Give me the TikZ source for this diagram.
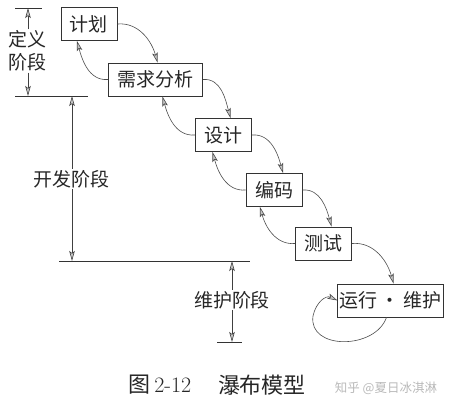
\documentclass[tikz,border=0pt]{standalone}
\usepackage{fontspec}
\newfontfamily\cjk{Noto Sans CJK SC}
\usepackage{tikz}
\usetikzlibrary{arrows.meta,positioning}

\tikzset{
    phase/.style={draw=black!80, thick, inner xsep=9pt, minimum height=33pt,
        font=\cjk\fontsize{19}{22}\selectfont, text=black!85},
    label/.style={inner sep=1pt, font=\cjk\fontsize{19}{23}\selectfont,
        text=black!85, align=center},
    flow/.style={draw=black!70, semithick,
        -{Stealth[length=10pt,width=5.5pt,inset=2pt,fill=gray!45]}},
    dim/.style={draw=black!75, semithick,
        -{Stealth[length=10pt,width=5.5pt,inset=2pt,fill=gray!45]}},
    rule/.style={draw=black!80, semithick}
}

\begin{document}
\begin{tikzpicture}[x=1pt,y=-1pt]
    \useasboundingbox (0,0) rectangle (451,412);

    % 各阶段
    \node[phase] (plan)   at (89,24)     {计划};
    \node[phase] (req)    at (155.5,79.5) {需求分析};
    \node[phase] (design) at (223.5,135) {设计};
    \node[phase] (code)   at (274,190)   {编码};
    \node[phase] (test)   at (323.5,243.5) {测试};
    \node[phase, inner xsep=2pt] (run) at (390.5,300.5) {运行\,·\,维护};

    % 向下的箭头
    \foreach \a/\b/\dx in {plan/req/2, req/design/7, design/code/9, code/test/8, test/run/3} {
        \draw[flow] (\a.east) to[out=5, in=105] ([xshift=\dx pt]\b.north);
    }
    % 返回的箭头
    \foreach \a/\b/\dx in {req/plan/-12, design/req/7, code/design/-11, test/code/-14} {
        \draw[flow] (\a.west) to[out=185, in=-75] ([xshift=\dx pt]\b.south);
    }
    % 运行维护自身的循环
    \draw[flow] ([xshift=-4pt]run.south) .. controls (375,350) and (308,350) .. (313,316)
        .. controls (316,302) and (326,295) .. (run.west);

    % 定义阶段
    \coordinate (deftop) at (28,8);
    \coordinate (defbot) at (28,96);
    \draw[rule] (15,8) -- (42,8);
    \draw[rule] (15,96) -- (88,96);
    \node[label] (define) at (28,51) {定义\\阶段};
    \draw[dim] (define) -- (deftop);
    \draw[dim] (define) -- (defbot);

    % 开发阶段
    \coordinate (devtop) at (72,96);
    \coordinate (devbot) at (72,261);
    \draw[rule] (59,261) -- (250,261);
    \node[label] (develop) at (72,179) {开发阶段};
    \draw[dim] (develop) -- (devtop);
    \draw[dim] (develop) -- (devbot);

    % 维护阶段
    \coordinate (maintop) at (232,261);
    \coordinate (mainbot) at (232,342);
    \draw[rule] (217,342) -- (242,342);
    \node[label] (maintain) at (232,300) {维护阶段};
    \draw[dim] (maintain) -- (maintop);
    \draw[dim] (maintain) -- (mainbot);

    % 图题
    \node[text=black!85, font=\fontsize{22}{24}\selectfont] (fignum) at (160,385)
        {{\cjk 图}\,2-12};
    \node[text=black!85, font=\cjk\fontsize{22}{24}\selectfont] (figname) at (262,385)
        {瀑布模型};
    \node[text=gray!55, font=\cjk\fontsize{12.5}{14}\selectfont] (mark) at (386,388)
        {知乎 @夏日冰淇淋};
\end{tikzpicture}
\end{document}
